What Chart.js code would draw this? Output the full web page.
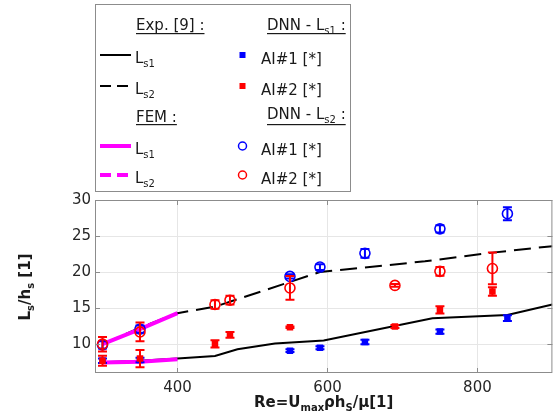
<!DOCTYPE html>
<html>
<head>
<meta charset="utf-8">
<script src="https://cdn.jsdelivr.net/npm/chart.js@4"></script>
<style>
  html, body { margin: 0; padding: 0; background: #fff; }
  #wrap { width: 559px; height: 414px; position: relative; }
</style>
</head>
<body>
<div id="wrap"><canvas id="grafico" width="559" height="414"></canvas></div>
<script>
    // Curvas experimentales [9]
    const expLs1X = [300, 350, 400, 450, 480, 530, 595, 740, 840, 900];
    const expLs1Y = [7.5, 7.7, 8.0, 8.35, 9.3, 10.1, 10.5, 13.6, 14.05, 15.5];
    const expLs2X = [300, 350, 400, 450, 590, 730, 820, 900];
    const expLs2Y = [10.0, 12.3, 14.3, 15.2, 20.0, 21.5, 22.7, 23.6];

    // Curvas FEM
    const femX = [300, 350, 400];
    const femLs1Y = [7.45, 7.55, 7.9];
    const femLs2Y = [10.0, 12.1, 14.3];

    // Predicciones DNN (AI#1 y AI#2) con su barra de error
    const ai1X = [300, 350, 550, 590, 650, 750, 840];
    const ai1Ls1 = [7.7, 7.8, 9.1, 9.5, 10.3, 11.75, 13.6];
    const ai1Ls1Err = [0.3, 0.3, 0.2, 0.2, 0.3, 0.3, 0.4];
    const ai1Ls2 = [9.9, 12.1, 19.4, 20.7, 22.6, 26.0, 28.1];
    const ai1Ls2Err = [0.5, 0.5, 0.3, 0.4, 0.6, 0.5, 0.9];

    const ai2X = [300, 350, 450, 470, 550, 690, 750, 820];
    const ai2Ls1 = [7.7, 8.0, 10.05, 11.3, 12.35, 12.45, 14.75, 17.3];
    const ai2Ls1Err = [0.7, 1.2, 0.5, 0.4, 0.1, 0.2, 0.5, 0.6];
    const ai2Ls2 = [10.0, 11.7, 15.5, 16.1, 17.8, 18.15, 20.1, 20.5];
    const ai2Ls2Err = [1.0, 1.3, 0.6, 0.6, 1.65, 0.2, 0.6, 2.2];

    const xTicks = [400, 600, 800];
    const yTicks = [10, 15, 20, 25, 30];

    const AZUL = '#0000ff';
    const ROJO = '#ff0000';
    const MAGENTA = '#ff00ff';
    const FUENTE = '"DejaVu Sans", sans-serif';

    function puntos(xs, ys) {
        return xs.map((x, i) => ({ x: x, y: ys[i] }));
    }

    function serieLinea(xs, ys, color, ancho, guiones, orden) {
        return {
            type: 'line',
            data: puntos(xs, ys),
            borderColor: color,
            borderWidth: ancho,
            borderDash: guiones,
            pointRadius: 0,
            fill: false,
            tension: 0,
            order: orden
        };
    }

    function serieMarcador(xs, ys, errs, color, estilo, orden) {
        const abierto = estilo === 'circle';
        return {
            type: 'scatter',
            data: puntos(xs, ys),
            errores: errs,
            pointStyle: estilo,
            pointRadius: abierto ? 5 : 4.6,
            borderColor: color,
            borderWidth: abierto ? 1.6 : 0,
            backgroundColor: abierto ? 'rgba(0,0,0,0)' : color,
            order: orden
        };
    }

    // Barras de error verticales con remate
    const barrasError = {
        id: 'barrasError',
        afterDatasetDraw(chart, args) {
            const ds = chart.data.datasets[args.index];
            if (!ds.errores) return;
            const ctx = chart.ctx;
            const ys = chart.scales.y;
            ctx.save();
            ctx.strokeStyle = ds.borderColor;
            ctx.lineWidth = 2;
            args.meta.data.forEach((p, i) => {
                const v = ds.data[i].y, e = ds.errores[i];
                const y1 = ys.getPixelForValue(v + e);
                const y2 = ys.getPixelForValue(v - e);
                ctx.beginPath();
                ctx.moveTo(p.x, y1); ctx.lineTo(p.x, y2);
                ctx.moveTo(p.x - 4.5, y1); ctx.lineTo(p.x + 4.5, y1);
                ctx.moveTo(p.x - 4.5, y2); ctx.lineTo(p.x + 4.5, y2);
                ctx.stroke();
            });
            ctx.restore();
        }
    };

    // Texto con subíndices: partes [texto, esSubindice]
    function textoCompuesto(ctx, partes, x, y, tam, negrita, medir) {
        let ancho = 0;
        partes.forEach(([t, sub]) => {
            const f = sub ? Math.round(tam * 0.68) : tam;
            ctx.font = (negrita ? 'bold ' : '') + f + 'px ' + FUENTE;
            if (!medir) ctx.fillText(t, x + ancho, y + (sub ? tam * 0.28 : 0));
            ancho += ctx.measureText(t).width;
        });
        return ancho;
    }

    // Marco, marcas interiores y títulos de los ejes
    const marcoYTitulos = {
        id: 'marcoYTitulos',
        afterDraw(chart) {
            const ctx = chart.ctx;
            const a = chart.chartArea;
            const sx = chart.scales.x, sy = chart.scales.y;
            ctx.save();
            ctx.strokeStyle = '#8c8c8c';
            ctx.lineWidth = 1;
            ctx.strokeRect(a.left + 0.5, a.top + 0.5, a.right - a.left - 1, a.bottom - a.top - 1);
            ctx.beginPath();
            yTicks.forEach(v => {
                const py = Math.round(sy.getPixelForValue(v)) + 0.5;
                ctx.moveTo(a.left, py); ctx.lineTo(a.left + 5, py);
                ctx.moveTo(a.right, py); ctx.lineTo(a.right - 5, py);
            });
            xTicks.forEach(v => {
                const px = Math.round(sx.getPixelForValue(v)) + 0.5;
                ctx.moveTo(px, a.bottom); ctx.lineTo(px, a.bottom - 5);
                ctx.moveTo(px, a.top); ctx.lineTo(px, a.top + 5);
            });
            ctx.stroke();

            ctx.fillStyle = '#1a1a1a';
            ctx.textBaseline = 'alphabetic';
            ctx.textAlign = 'left';
            const tituloX = [['Re=U', false], ['max', true], ['ρh', false], ['S', true], ['/μ[1]', false]];
            const wx = textoCompuesto(ctx, tituloX, 0, 0, 15, true, true);
            textoCompuesto(ctx, tituloX, (a.left + a.right) / 2 - wx / 2, 407, 15, true, false);

            const tituloY = [['L', false], ['s', true], ['/h', false], ['s', true], [' [1]', false]];
            const wy = textoCompuesto(ctx, tituloY, 0, 0, 15, true, true);
            ctx.translate(30, 287);
            ctx.rotate(-Math.PI / 2);
            textoCompuesto(ctx, tituloY, -wy / 2, 0, 15, true, false);
            ctx.restore();
        }
    };

    // Leyenda en recuadro con encabezados subrayados
    const leyenda = {
        id: 'leyenda',
        afterDraw(chart) {
            const ctx = chart.ctx;
            ctx.save();
            ctx.fillStyle = '#fff';
            ctx.fillRect(95, 4, 255, 187);
            ctx.strokeStyle = '#8c8c8c';
            ctx.lineWidth = 1;
            ctx.strokeRect(95.5, 4.5, 255, 187);
            ctx.fillStyle = '#1a1a1a';
            ctx.textBaseline = 'alphabetic';

            const encabezado = (partes, x, y, yRaya) => {
                const w = textoCompuesto(ctx, partes, x, y, 15, false, false);
                ctx.fillRect(x, yRaya, w, 1.2);
            };
            encabezado([['Exp. [9] :', false]], 136, 30, 33);
            encabezado([['DNN - L', false], ['s1', true], [' :', false]], 267, 30, 33);
            encabezado([['FEM :', false]], 136, 122, 124);
            encabezado([['DNN - L', false], ['s2', true], [' :', false]], 267, 119, 124);

            const filas = [
                { y: 55, color: '#000', ancho: 2, guion: [], sub: 's1', marca: 'rect', mc: AZUL, txt: 'AI#1 [*]' },
                { y: 86, color: '#000', ancho: 2, guion: [11, 6], sub: 's2', marca: 'rect', mc: ROJO, txt: 'AI#2 [*]' },
                { y: 146, color: MAGENTA, ancho: 4, guion: [], sub: 's1', marca: 'circle', mc: AZUL, txt: 'AI#1 [*]' },
                { y: 175, color: MAGENTA, ancho: 4, guion: [11, 6], sub: 's2', marca: 'circle', mc: ROJO, txt: 'AI#2 [*]' }
            ];
            filas.forEach(f => {
                ctx.strokeStyle = f.color;
                ctx.lineWidth = f.ancho;
                ctx.setLineDash(f.guion);
                ctx.beginPath();
                ctx.moveTo(100, f.y); ctx.lineTo(131, f.y);
                ctx.stroke();
                ctx.setLineDash([]);
                ctx.fillStyle = '#1a1a1a';
                textoCompuesto(ctx, [['L', false], [f.sub, true]], 135, f.y + 8, 15, false, false);
                ctx.font = '15px ' + FUENTE;
                ctx.fillText(f.txt, 261, f.y + 9);
                if (f.marca === 'rect') {
                    ctx.fillStyle = f.mc;
                    ctx.fillRect(239.5, f.y - 3, 6, 6);
                } else {
                    ctx.strokeStyle = f.mc;
                    ctx.lineWidth = 1.5;
                    ctx.beginPath();
                    ctx.arc(242.5, f.y, 4, 0, Math.PI * 2);
                    ctx.stroke();
                }
            });
            ctx.restore();
        }
    };

    const datasets = [
        serieLinea(expLs1X, expLs1Y, '#000', 2, [], 10),
        serieLinea(expLs2X, expLs2Y, '#000', 2, [17, 8], 10),
        serieLinea(femX, femLs1Y, MAGENTA, 4, [], 9),
        serieLinea(femX, femLs2Y, MAGENTA, 4, [], 9),
        serieMarcador(ai1X, ai1Ls1, ai1Ls1Err, AZUL, 'rect', 4),
        serieMarcador(ai2X, ai2Ls1, ai2Ls1Err, ROJO, 'rect', 3),
        serieMarcador(ai1X, ai1Ls2, ai1Ls2Err, AZUL, 'circle', 2),
        serieMarcador(ai2X, ai2Ls2, ai2Ls2Err, ROJO, 'circle', 1)
    ];

    new Chart(document.getElementById('grafico').getContext('2d'), {
        type: 'scatter',
        data: { datasets: datasets },
        plugins: [barrasError, marcoYTitulos, leyenda],
        options: {
            responsive: false,
            animation: false,
            layout: { padding: { top: 200, right: 2, left: 0, bottom: 0 } },
            plugins: { legend: { display: false }, tooltip: { enabled: false } },
            scales: {
                x: {
                    type: 'linear',
                    min: 290,
                    max: 900,
                    afterBuildTicks: s => { s.ticks = xTicks.map(v => ({ value: v })); },
                    afterFit: s => { s.height = 41; },
                    grid: { color: '#e6e6e6', drawTicks: false },
                    border: { display: false },
                    ticks: { color: '#262626', padding: 6, font: { family: FUENTE, size: 15 } }
                },
                y: {
                    type: 'linear',
                    min: 6,
                    max: 30,
                    afterBuildTicks: s => { s.ticks = yTicks.map(v => ({ value: v })); },
                    afterFit: s => { s.width = 95; },
                    grid: { color: '#e6e6e6', drawTicks: false },
                    border: { display: false },
                    ticks: { color: '#262626', padding: 4, font: { family: FUENTE, size: 15 } }
                }
            }
        }
    });
</script>
</body>
</html>
